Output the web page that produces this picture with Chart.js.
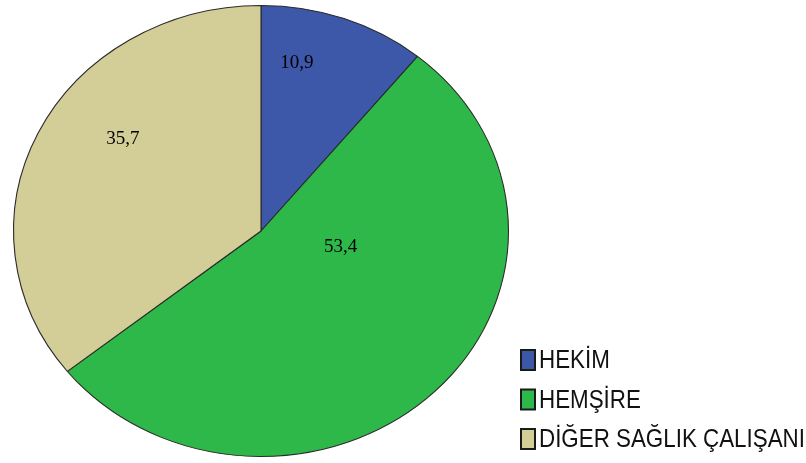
<!DOCTYPE html>
<html>
<head>
<meta charset="utf-8">
<script src="https://cdn.jsdelivr.net/npm/chart.js@4/dist/chart.umd.min.js"></script>
<style>
  html, body { margin: 0; padding: 0; background: #fff; }
  #pie { display: block; }
</style>
</head>
<body>
<canvas id="pie" width="806" height="463"></canvas>
<script>
// meslek grubu dağılımı (%)
const categories = ['HEKİM', 'HEMŞİRE', 'DİĞER SAĞLIK ÇALIŞANI'];
const shares = [10.9, 53.4, 35.7];
const sliceColors = ['#3d58a8', '#2eb84a', '#d3ce98'];

// where each value label sits inside its slice: fraction of the slice angle, fraction of the radius
const labelSpot = [[0.28, 0.76], [0.33, 0.33], [0.58, 0.69]];

// the pie is drawn a bit wider than tall
const stretchX = 248 / 226;

const ellipse = {
  id: 'ellipse',
  beforeDatasetsDraw(chart) {
    const arc = chart.getDatasetMeta(0).data[0];
    const ctx = chart.ctx;
    ctx.save();
    ctx.translate(arc.x, 0);
    ctx.scale(stretchX, 1);
    ctx.translate(-arc.x, 0);
  },
  afterDatasetsDraw(chart) {
    chart.ctx.restore();
  }
};

const valueLabels = {
  id: 'valueLabels',
  afterDraw(chart) {
    const ctx = chart.ctx;
    const values = chart.data.datasets[0].data;
    ctx.save();
    ctx.font = '19px "Liberation Serif", "Times New Roman", serif';
    ctx.fillStyle = '#000';
    ctx.textAlign = 'center';
    ctx.textBaseline = 'middle';
    chart.getDatasetMeta(0).data.forEach((arc, i) => {
      const p = arc.getProps(['x', 'y', 'startAngle', 'endAngle', 'outerRadius'], true);
      const a = p.startAngle + labelSpot[i][0] * (p.endAngle - p.startAngle);
      const r = labelSpot[i][1] * p.outerRadius;
      const x = p.x + Math.cos(a) * r * stretchX;
      const y = p.y + Math.sin(a) * r;
      ctx.fillText(values[i].toFixed(1).replace('.', ','), x, y);
    });
    ctx.restore();
  }
};

// legend drawn with a narrow face: regular sans squeezed horizontally
const boxLegend = {
  id: 'boxLegend',
  afterDraw(chart) {
    const ctx = chart.ctx;
    const colors = chart.data.datasets[0].backgroundColor;
    ctx.save();
    ctx.font = '26px "Liberation Sans", Arial, sans-serif';
    ctx.textBaseline = 'middle';
    chart.data.labels.forEach((label, i) => {
      const top = 350 + i * 39.5;
      ctx.fillStyle = colors[i];
      ctx.fillRect(521, top, 14, 20);
      ctx.strokeStyle = '#1a1a1a';
      ctx.lineWidth = 2;
      ctx.strokeRect(521, top, 14, 20);
      ctx.save();
      ctx.translate(539, top + 11);
      ctx.scale(0.86, 1);
      ctx.fillStyle = '#111';
      ctx.fillText(label, 0, 0);
      ctx.restore();
    });
    ctx.restore();
  }
};

new Chart(document.getElementById('pie'), {
  type: 'pie',
  data: {
    labels: categories,
    datasets: [{
      data: shares,
      backgroundColor: sliceColors,
      borderColor: '#2a2a2a',
      borderWidth: 1,
      clip: false
    }]
  },
  options: {
    responsive: false,
    animation: false,
    events: [],
    devicePixelRatio: 1,
    layout: { padding: { left: 35, right: 319, top: 5, bottom: 6 } },
    plugins: {
      legend: { display: false },
      tooltip: { enabled: false }
    }
  },
  plugins: [ellipse, valueLabels, boxLegend]
});
</script>
</body>
</html>
